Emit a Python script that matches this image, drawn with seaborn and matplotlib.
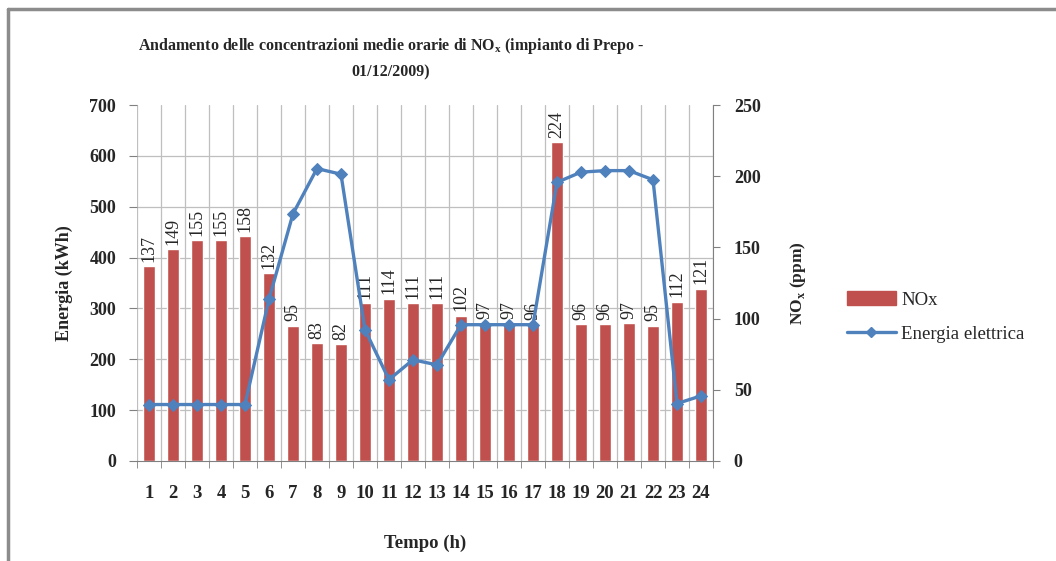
import numpy as np
import pandas as pd
import matplotlib.pyplot as plt
import seaborn as sns
from matplotlib.lines import Line2D
from matplotlib.patches import Patch

# hourly data, 01/12/2009
ore = [str(h) for h in range(1, 25)]
nox = [137, 149, 155, 155, 158, 132, 95, 83, 82, 111, 114, 111,
       111, 102, 97, 97, 96, 224, 96, 96, 97, 95, 112, 121]
energia = [111, 111, 111, 111, 111, 318, 486, 575, 564, 258, 160, 199,
           189, 268, 268, 268, 268, 548, 568, 571, 571, 553, 113, 128]

df = pd.DataFrame({'Ora': ore, 'NOx': nox, 'Energia': energia})

sns.set_style('white')
plt.rcParams['font.family'] = ['Liberation Serif', 'DejaVu Serif']

bar_col = '#C0504D'
line_col = '#4F81BD'
grid_col = '#BFBFBF'
tick_col = '#808080'

fig = plt.figure(figsize=(10.56, 5.61), dpi=100)
ax = fig.add_axes([0.1297, 0.1783, 0.5455, 0.6345])

# bars -> right axis (NOx)
sns.barplot(data=df, x='Ora', y='NOx', color=bar_col, saturation=1,
            width=0.5, ax=ax, zorder=2)

# line -> left axis (energy), drawn on top of the bars
ax2 = ax.twinx()
sns.lineplot(x=np.arange(24), y=energia, ax=ax2, color=line_col, lw=2.4,
             marker='D', markersize=6, markeredgecolor=line_col)

ax.set_ylim(0, 250)
ax.set_xlim(-0.5, 23.5)
ax.yaxis.tick_right()
ax.yaxis.set_label_position('right')
ax.set_yticks(np.arange(0, 251, 50))
ax.set_yticks(np.arange(0, 250.1, 250 / 7), minor=True)
ax.set_xticks(np.arange(-0.5, 24, 1), minor=True)
ax.grid(which='minor', color=grid_col, lw=0.9, zorder=0)
ax.set_axisbelow(True)
ax.tick_params(axis='y', which='major', left=False, right=True, length=5,
               color=tick_col, labelsize=13, pad=10)
ax.tick_params(axis='y', which='minor', left=False, right=False, length=0)
ax.tick_params(axis='x', which='major', length=0, labelsize=13.5, pad=17)
ax.tick_params(axis='x', which='minor', bottom=True, length=5, color=tick_col)
for lab in ax.get_xticklabels() + ax.get_yticklabels():
    lab.set_fontweight('bold')
for s in ['top', 'left']:
    ax.spines[s].set_visible(False)
for s in ['right', 'bottom']:
    ax.spines[s].set_color(tick_col)
ax.set_xlabel('Tempo (h)', fontsize=13.5, fontweight='bold', labelpad=24)
ax.set_ylabel('NO$_\\mathregular{x}$ (ppm)', fontsize=12.5, fontweight='bold',
              labelpad=20)

for p, v in zip(ax.patches, nox):
    ax.text(p.get_x() + p.get_width() / 2, p.get_height() + 3, str(v),
            rotation=90, ha='center', va='bottom', fontsize=13)

ax2.set_ylim(0, 700)
ax2.yaxis.tick_left()
ax2.yaxis.set_label_position('left')
ax2.set_yticks(np.arange(0, 701, 100))
ax2.tick_params(axis='y', left=True, right=False, length=6, color=tick_col,
                labelsize=13, pad=9)
for lab in ax2.get_yticklabels():
    lab.set_fontweight('bold')
for s in ax2.spines.values():
    s.set_visible(False)
ax2.set_ylabel('Energia (kWh)', fontsize=13, fontweight='bold', labelpad=12)

fig.suptitle('Andamento delle concentrazioni medie orarie di NO$_\\mathregular{x}$ '
             '(impianto di Prepo -\n01/12/2009)',
             x=0.37, y=0.935, fontsize=11.5, fontweight='bold', linespacing=1.65)

handles = [Patch(color=bar_col),
           Line2D([], [], color=line_col, lw=2.4, marker='D', markersize=5)]
fig.legend(handles, ['NOx', 'Energia elettrica'], loc='center left',
           bbox_to_anchor=(0.786, 0.435), frameon=False, fontsize=13.5,
           handlelength=2.6, labelspacing=0.9, handletextpad=0.3)

# outer chart border
fig.add_artist(Line2D([0.008, 1.0], [0.984, 0.984], transform=fig.transFigure,
                      color='#8C8C8C', lw=2.5))
fig.add_artist(Line2D([0.008, 0.008], [0.0, 0.984], transform=fig.transFigure,
                      color='#8C8C8C', lw=2.5))

fig.savefig('out.png', dpi=100)
